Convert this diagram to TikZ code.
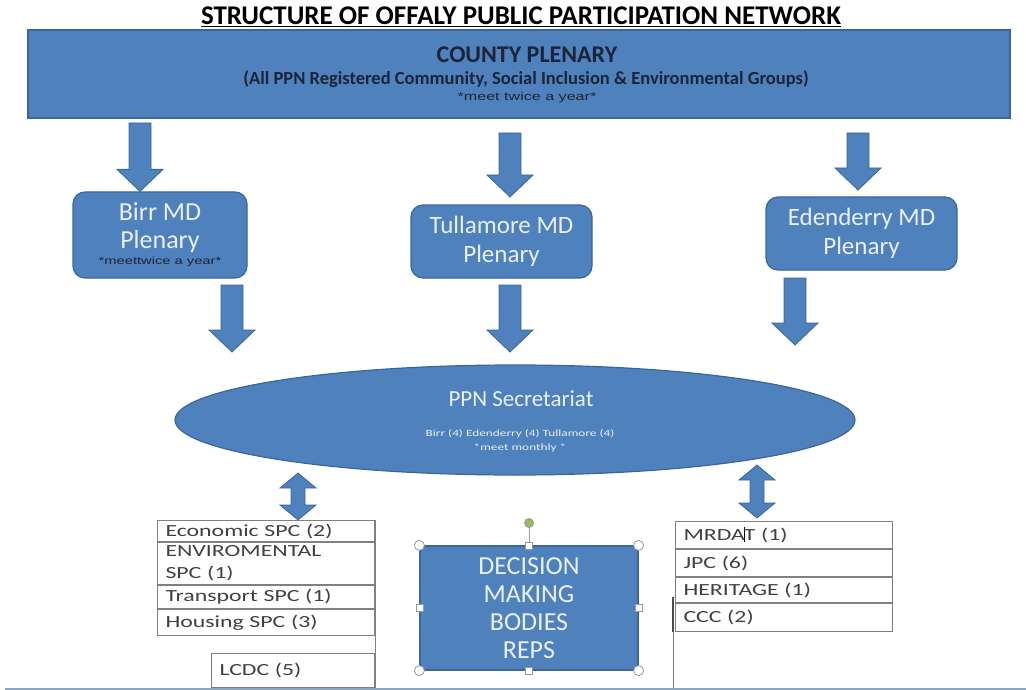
\documentclass[tikz,border=0pt]{standalone}
\usepackage{fontspec}
\setmainfont{Carlito}
\newfontfamily\tabfont{Carlito}[FakeStretch=1.4]
\newfontfamily\notefont{Liberation Sans}[FakeStretch=1.4]
\usetikzlibrary{calc,positioning,shapes.geometric}

\definecolor{boxblue}{HTML}{4F81BD}
\definecolor{boxedge}{HTML}{3A669C}
\definecolor{lighttext}{HTML}{EAF0F8}
\definecolor{darktext}{HTML}{1B2438}
\definecolor{celltext}{HTML}{404040}
\definecolor{rulegray}{HTML}{808080}
\definecolor{handlegray}{HTML}{8E9AA8}
\definecolor{handlegreen}{HTML}{9BBB59}
\definecolor{baseblue}{HTML}{8DA4C4}

% fat block arrow, top point #1 down to tip #2
\newcommand{\blkdown}[2]{%
  \path[blockarrow] let \p1=(#1), \p2=(#2) in
    (\x1-11pt,\y1) -- (\x1+11pt,\y1) -- (\x1+11pt,\y2+22pt) -- (\x1+23pt,\y2+22pt)
    -- (\x1,\y2) -- (\x1-23pt,\y2+22pt) -- (\x1-11pt,\y2+22pt) -- cycle;}
% two headed block arrow between #1 (top) and #2 (bottom)
\newcommand{\blkboth}[2]{%
  \path[blockarrow] let \p1=(#1), \p2=(#2) in
    (\x1,\y1) -- (\x1+18pt,\y1-15pt) -- (\x1+7pt,\y1-15pt) -- (\x1+7pt,\y2+15pt)
    -- (\x1+18pt,\y2+15pt) -- (\x1,\y2) -- (\x1-18pt,\y2+15pt) -- (\x1-7pt,\y2+15pt)
    -- (\x1-7pt,\y1-15pt) -- (\x1-18pt,\y1-15pt) -- cycle;}

\begin{document}
\begin{tikzpicture}[x=1pt,y=-1pt,
    bluebox/.style={draw=boxedge,fill=boxblue,line width=1.2pt},
    mdbox/.style={bluebox,rounded corners=12pt,text=lighttext,align=center,inner sep=0pt,
      font=\fontsize{25}{29}\selectfont},
    cell/.style={draw=rulegray,line width=1pt,text=celltext,align=left,inner xsep=8pt,
      inner ysep=0pt,text width=201pt,font=\tabfont\fontsize{17}{22}\selectfont},
    blockarrow/.style={draw=boxedge,fill=boxblue,line width=0.8pt},
    handle/.style={draw=handlegray,fill=white,line width=0.8pt}]
  \useasboundingbox (0,0) rectangle (1026,690);

  \node[font=\bfseries\fontsize{27}{30}\selectfont,inner sep=0pt] (title) at (521,17)
    {\underline{STRUCTURE OF OFFALY PUBLIC PARTICIPATION NETWORK}};

  \node[bluebox,minimum width=982pt,minimum height=88pt] (county) at (519,74) {};
  \node[font=\bfseries\fontsize{24}{27}\selectfont,text=darktext] (cpname) at (527,55) {COUNTY PLENARY};
  \node[font=\bfseries\fontsize{18.5}{21}\selectfont,text=darktext] (cpgroups) at (526,79)
    {(All PPN Registered Community, Social Inclusion \& Environmental Groups)};
  \node[font=\notefont\fontsize{11.5}{13}\selectfont,text=darktext] (cpmeet) at (527,98) {*meet twice a year*};

  \node[mdbox,minimum width=174pt,minimum height=86pt,font=\fontsize{26}{28}\selectfont] (birr) at (160,235)
    {Birr MD\\Plenary\\[-12pt]{\notefont\fontsize{10.5}{11}\selectfont\color{darktext}*meettwice a year*}};
  \node[mdbox,minimum width=181pt,minimum height=73pt] (tull) at (501.5,241.5) {Tullamore MD\\Plenary};
  \node[mdbox,minimum width=191pt,minimum height=73pt] (eden) at (861.5,233.5) {Edenderry MD\\Plenary};

  \node[bluebox,ellipse,minimum width=680pt,minimum height=110pt,inner sep=0pt] (sec) at (515,420) {};
  \node[text=lighttext,font=\fontsize{23}{26}\selectfont] (secname) at (521,399) {PPN Secretariat};
  \node[text=lighttext,font=\tabfont\fontsize{9.5}{14}\selectfont,align=center] (secinfo) at (520,441)
    {Birr (4) Edenderry (4) Tullamore (4)\\{}*meet monthly *};

  % arrows
  \coordinate (a1) at (140,123); \coordinate (a1t) at (birr.north -| a1);
  \coordinate (a2) at (510,133); \coordinate (a2t) at (510,197);
  \coordinate (a3) at (858,133); \coordinate (a3t) at (858,190);
  \coordinate (a4) at (232,285); \coordinate (a4t) at (232,352);
  \coordinate (a5) at (510,285); \coordinate (a5t) at (510,352);
  \coordinate (a6) at (795,278); \coordinate (a6t) at (795,345);
  \blkdown{a1}{a1t} \blkdown{a2}{a2t} \blkdown{a3}{a3t}
  \blkdown{a4}{a4t} \blkdown{a5}{a5t} \blkdown{a6}{a6t}
  \coordinate (b1) at (298,473); \coordinate (b1t) at (298,520);
  \coordinate (b2) at (757,465); \coordinate (b2t) at (757,518);
  \blkboth{b1}{b1t} \blkboth{b2}{b2t}

  % left table
  \node[cell,minimum height=21pt,anchor=north west] (econ) at (157,520) {Economic SPC (2)};
  \node[cell,minimum height=42pt,below=0pt of econ] (envi) {ENVIROMENTAL\\SPC (1)};
  \node[cell,minimum height=23pt,below=0pt of envi] (trans) {Transport SPC (1)};
  \node[cell,minimum height=26pt,below=0pt of trans] (hous) {Housing SPC (3)};
  \coordinate (lend) at (econ.north east |- 0,690);
  \draw[draw=rulegray,line width=1pt] (econ.north east) -- (lend);
  \node[cell,text width=147pt,minimum height=34pt,anchor=north west] (lcdc) at (211,653) {LCDC (5)};

  % right table
  \node[cell,minimum height=27pt,anchor=north west] (mrdat) at (675,521)
    {MRDA\kern-1pt\textcolor{black}{\rule[-2pt]{1pt}{15pt}}\kern-1pt T (1)};
  \node[cell,minimum height=27pt,below=0pt of mrdat] (jpc) {JPC (6)};
  \node[cell,minimum height=25pt,below=0pt of jpc] (herit) {HERITAGE (1)};
  \node[cell,minimum height=28pt,below=0pt of herit] (ccc) {CCC (2)};
  \coordinate (rtop) at (673,597); \coordinate (rend) at (673,690);
  \draw[draw=rulegray,line width=1pt] (rtop) -- (rend);
  \draw[draw=black!70,line width=2.5pt] (rtop) -- (rtop |- ccc.south);

  % decision box with handles
  \node[bluebox,minimum width=218pt,minimum height=124pt,text=lighttext,align=center,
    font=\fontsize{26}{28}\selectfont] (dmb) at (529,608) {DECISION\\MAKING\\BODIES\\REPS};
  \coordinate (rot) at (529,523);
  \draw[draw=handlegray,line width=0.8pt] (rot) -- (dmb.north);
  \path[handle,fill=handlegreen] (rot) circle[radius=4.5];
  \foreach \a in {north west,north east,south west,south east}
    \path[handle] (dmb.\a) circle[radius=5];
  \foreach \a in {north,south,east,west}
    \path[handle] ($(dmb.\a)+(-3.5,-3.5)$) rectangle ++(7,7);

  \draw[draw=baseblue,line width=2pt] (5,688.5) -- (1026,688.5);
\end{tikzpicture}
\end{document}
